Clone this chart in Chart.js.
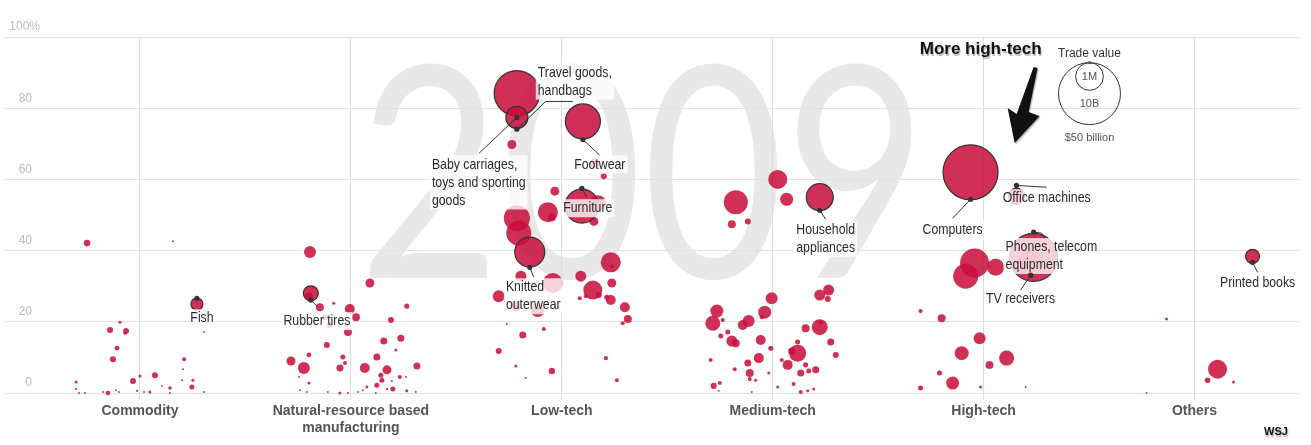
<!DOCTYPE html>
<html>
<head>
<meta charset="utf-8">
<script src="https://cdn.jsdelivr.net/npm/chart.js@4.4.1/dist/chart.umd.min.js"></script>
<style>
  html, body { margin: 0; padding: 0; background: #fff; }
  #wrap { width: 1311px; height: 445px; position: relative; }
</style>
</head>
<body>
<div id="wrap"><canvas id="chart"></canvas></div>
<script>
const categories = ['Commodity', 'Natural-resource based manufacturing', 'Low-tech', 'Medium-tech', 'High-tech', 'Others'];
const yTicks = [0, 20, 40, 60, 80, 100];
const yearLabel = '2009';
const legendValues = [10, 50];
const legendTexts = ['Trade value', '1M', '10B', '$50 billion'];

// rows: [offset from category centre, share %, trade value $bn]
const commodity = [
    [-0.251, 42.1, 0.57], [0.156, 42.6, 0.05], [-0.142, 17.7, 0.47], [-0.095, 19.9, 0.12], [-0.066, 17.4, 0.47],
    [-0.071, 16.8, 0.12], [-0.109, 12.6, 0.28], [-0.128, 9.5, 0.47], [-0.303, 3.1, 0.12], [-0.303, 1.1, 0.07],
    [-0.289, 0, 0.05], [-0.261, 0, 0.05], [-0.175, 0.3, 0.05], [-0.152, 0, 0.28], [-0.114, 0.8, 0.05],
    [-0.1, 0.3, 0.05], [-0.033, 3.4, 0.47], [0, 4.8, 0.12], [-0.014, 0.6, 0.07], [0.019, 0.3, 0.05],
    [0.047, 0.3, 0.12], [0.071, 5.0, 0.47], [0.104, 2.0, 0.05], [0.142, 1.4, 0.15], [0.142, 0, 0.05],
    [0.199, 3.6, 0.05], [0.209, 9.5, 0.21], [0.204, 6.7, 0.05], [0.251, 3.6, 0.12], [0.246, 1.7, 0.33],
    [0.303, 0.3, 0.05], [0.303, 17.1, 0.05]
];
const naturalResource = [
    [-0.194, 39.6, 1.87], [-0.199, 27.2, 0.83], [-0.147, 24.1, 0.83], [-0.081, 25.2, 0.12], [0.09, 30.9, 1.05],
    [-0.005, 23.6, 1.3], [0.024, 21.3, 0.83], [-0.123, 21.3, 0.47], [-0.1, 19.1, 0.47], [0.265, 24.4, 0.33],
    [0.19, 20.5, 0.47], [-0.014, 17.1, 0.83], [0.156, 14.6, 0.64], [0.237, 15.4, 0.64], [0.213, 12.1, 0.12],
    [-0.114, 13.5, 0.47], [-0.199, 10.7, 0.28], [-0.284, 9.0, 1.05], [-0.223, 7.0, 1.87], [-0.038, 10.1, 0.33],
    [-0.028, 8.4, 0.21], [-0.052, 7.0, 0.64], [0.066, 7.0, 1.3], [0.123, 10.1, 0.64], [0.171, 6.5, 1.05],
    [0.142, 5.0, 0.33], [0.147, 3.6, 0.33], [0.123, 2.2, 0.33], [0.313, 7.6, 0.64], [0.232, 4.5, 0.21],
    [0.261, 4.5, 0.05], [0.194, 3.4, 0.05], [0.199, 1.1, 0.33], [0.171, 1.1, 0.07], [0.076, 1.7, 0.12],
    [0.057, 0.8, 0.05], [0.033, 0.3, 0.05], [0.265, 0.6, 0.12], [0.308, 0.3, 0.05], [0.118, 0, 0.05],
    [-0.199, 2.8, 0.12], [-0.246, 4.5, 0.05], [-0.242, 0.8, 0.05], [-0.209, 0.3, 0.05], [-0.109, 0.3, 0.05],
    [-0.052, 0, 0.12], [-0.014, 0, 0.05]
];
const lowTech = [
    [-0.237, 69.8, 1.05], [0.156, 64.5, 1.3], [0.199, 60.9, 0.47], [-0.033, 56.7, 1.05], [0.171, 53.3, 3.33],
    [0.152, 48.2, 1.05], [-0.066, 50.8, 5.2], [-0.047, 49.4, 0.83], [-0.213, 49.1, 8.79], [-0.204, 44.9, 8.13],
    [-0.194, 32.8, 1.57], [-0.043, 30.9, 5.2], [-0.299, 27.2, 1.87], [-0.218, 24.4, 1.3], [-0.114, 23.3, 2.55],
    [0.09, 32.8, 1.57], [0.147, 28.9, 4.69], [0.232, 36.7, 5.2], [0.237, 35.6, 0.21], [0.237, 30.9, 1.05],
    [0.232, 26.1, 1.3], [0.085, 26.6, 0.21], [0.114, 27.2, 0.21], [0.175, 27.5, 0.47], [0.213, 26.9, 0.33],
    [0.299, 24.1, 1.3], [0.313, 20.8, 0.83], [0.289, 19.6, 0.21], [-0.261, 19.4, 0.05], [-0.185, 16.3, 0.64],
    [-0.085, 18.0, 0.21], [-0.299, 11.8, 0.47], [-0.218, 7.6, 0.12], [-0.171, 4.2, 0.05], [-0.047, 6.2, 0.53],
    [0.209, 9.8, 0.25], [0.261, 3.6, 0.21]
];
const mediumTech = [
    [0.024, 60.0, 4.69], [-0.175, 53.6, 7.49], [-0.194, 47.4, 0.83], [-0.118, 48.2, 0.47], [0.066, 54.4, 2.2],
    [0.265, 28.9, 1.57], [0.223, 27.5, 1.57], [0.261, 26.4, 0.47], [-0.005, 26.6, 1.87], [-0.265, 23.0, 2.2],
    [-0.284, 19.6, 2.93], [-0.237, 20.5, 0.21], [-0.038, 22.7, 2.2], [-0.052, 21.3, 0.21], [-0.114, 20.2, 1.87],
    [-0.142, 19.1, 1.3], [-0.213, 17.1, 0.33], [-0.246, 16.0, 0.33], [-0.194, 14.6, 1.57], [-0.175, 14.0, 0.83],
    [-0.057, 14.9, 1.3], [-0.009, 12.6, 0.33], [-0.294, 9.3, 0.21], [-0.18, 6.7, 0.21], [-0.118, 8.4, 0.64],
    [-0.109, 5.6, 0.83], [-0.066, 9.8, 1.3], [-0.109, 3.9, 0.21], [-0.081, 3.6, 0.12], [-0.019, 5.6, 0.12],
    [0.043, 9.3, 0.21], [0.09, 11.8, 0.64], [0.118, 11.2, 3.76], [0.118, 14.3, 0.33], [0.071, 7.9, 1.3],
    [0.156, 18.2, 0.83], [0.223, 18.5, 3.33], [0.227, 19.9, 0.21], [0.275, 14.3, 0.64], [0.299, 10.7, 0.47],
    [0.156, 7.9, 0.33], [0.171, 6.2, 0.33], [0.204, 6.5, 0.64], [0.133, 5.6, 0.64], [0.099, 2.5, 0.21],
    [0.133, 0.3, 0.21], [0.166, 0.6, 0.12], [0.194, 1.1, 0.12], [0.024, 1.7, 0.12], [-0.099, 0.3, 0.05],
    [-0.28, 2.0, 0.47], [-0.251, 2.8, 0.21], [-0.256, 0.6, 0.05]
];
const highTech = [
    [-0.043, 36.5, 10.9], [-0.085, 32.8, 8.13], [0.057, 35.3, 3.76], [-0.299, 23.0, 0.21], [-0.199, 21.0, 0.83],
    [-0.019, 15.4, 1.87], [-0.104, 11.2, 2.55], [0.028, 7.9, 0.83], [0.109, 9.8, 2.93], [-0.209, 5.6, 0.33],
    [-0.147, 2.8, 2.2], [-0.299, 1.4, 0.33], [-0.014, 1.7, 0.12], [0.199, 1.7, 0.05]
];
const others = [
    [-0.227, 0, 0.05], [-0.133, 20.8, 0.12], [0.109, 6.7, 4.69], [0.062, 3.6, 0.41], [0.185, 3.1, 0.12]
];

// named products: category index, offset, share %, trade value $bn
const highlighted = [
    { name: 'Fish', cat: 0, off: 0.27, share: 25.0, value: 1.87 },
    { name: 'Rubber tires', cat: 1, off: -0.19, share: 28.0, value: 2.93 },
    { name: 'Travel goods, handbags', cat: 2, off: -0.213, share: 84.2, value: 26.8 },
    { name: 'Baby carriages, toys and sporting goods', cat: 2, off: -0.213, share: 77.4, value: 6.29 },
    { name: 'Footwear', cat: 2, off: 0.1, share: 76.3, value: 15.9 },
    { name: 'Furniture', cat: 2, off: 0.095, share: 52.5, value: 15.0 },
    { name: 'Knitted outerwear', cat: 2, off: -0.152, share: 39.6, value: 11.7 },
    { name: 'Household appliances', cat: 3, off: 0.223, share: 55.0, value: 9.48 },
    { name: 'Computers', cat: 4, off: -0.062, share: 62.0, value: 39.3 },
    { name: 'Office machines', cat: 4, off: 0.156, share: 55.3, value: 3.33 },
    { name: 'Phones, telecom equipment', cat: 4, off: 0.237, share: 38.1, value: 30.0 },
    { name: 'TV receivers', cat: 4, off: 0.223, share: 36.7, value: 8.79 },
    { name: 'Printed books', cat: 5, off: 0.275, share: 38.4, value: 2.55 }
];

// label layout, in axis units
const notes = {
    'Fish': { lines: ['Fish'], dot: [0.270, 26.6], path: [], at: [0.294, 21.0], align: 'center' },
    'Rubber tires': { lines: ['Rubber tires'], dot: [0.810, 26.1], path: [[0.839, 24.4]], at: [0.839, 20.2], align: 'center' },
    'Travel goods, handbags': { lines: ['Travel goods,', 'handbags'], dot: [1.787, 74.1], path: [[1.924, 81.9], [2.052, 81.9]], at: [1.886, 90.0], align: 'left' },
    'Baby carriages, toys and sporting goods': { lines: ['Baby carriages,', 'toys and sporting', 'goods'], dot: [1.787, 77.4], path: [[1.607, 67.3]], at: [1.384, 64.2], align: 'left' },
    'Footwear': { lines: ['Footwear'], dot: [2.100, 71.2], path: [[2.180, 66.8]], at: [2.180, 64.2], align: 'center' },
    'Furniture': { lines: ['Furniture'], dot: [2.095, 57.5], path: [[2.118, 55.0]], at: [2.123, 51.9], align: 'center' },
    'Knitted outerwear': { lines: ['Knitted', 'outerwear'], dot: [1.848, 35.3], path: [[1.867, 32.5]], at: [1.735, 29.7], align: 'left' },
    'Household appliances': { lines: ['Household', 'appliances'], dot: [3.223, 51.3], path: [[3.251, 48.8]], at: [3.251, 45.7], align: 'center' },
    'Computers': { lines: ['Computers'], dot: [3.938, 54.4], path: [[3.853, 49.1]], at: [3.853, 45.7], align: 'center' },
    'Office machines': { lines: ['Office machines'], dot: [4.156, 58.3], path: [[4.299, 57.8]], at: [4.299, 54.7], align: 'center' },
    'Phones, telecom equipment': { lines: ['Phones, telecom', 'equipment'], dot: [4.237, 45.2], path: [[4.275, 44.9], [4.289, 43.5]], at: [4.104, 41.0], align: 'left' },
    'TV receivers': { lines: ['TV receivers'], dot: [4.223, 33.1], path: [[4.175, 28.9]], at: [4.175, 26.4], align: 'center', ring: false },
    'Printed books': { lines: ['Printed books'], dot: [5.275, 36.7], path: [[5.299, 33.9]], at: [5.299, 30.9], align: 'center' }
};

const RED = 'rgba(200, 14, 58, 0.86)';
const INK = '#333';
const SANS = '"Liberation Sans", Arial, sans-serif';
const SQUEEZE = 0.82; // condensed look for the labels

const radiusFor = v => 31 * Math.sqrt(v / 50);

const groups = [commodity, naturalResource, lowTech, mediumTech, highTech, others];
const plainPoints = [];
groups.forEach((rows, i) => {
    rows.forEach(([off, share, value]) => {
        plainPoints.push({ x: i + off, y: share, r: radiusFor(value) });
    });
});
const labelledPoints = highlighted.map(h => ({
    x: h.cat + h.off, y: h.share, r: radiusFor(h.value), ring: notes[h.name].ring !== false
}));

function wrap(label) {
    if (!label || label.length < 20) return label;
    const cut = label.lastIndexOf(' ');
    return [label.slice(0, cut), label.slice(cut + 1)];
}

function narrowText(ctx, text, x, y, align) {
    const w = ctx.measureText(text).width * SQUEEZE;
    const x0 = align === 'center' ? x - w / 2 : x;
    ctx.save();
    ctx.translate(x0, y);
    ctx.scale(SQUEEZE, 1);
    ctx.textAlign = 'left';
    ctx.fillText(text, 0, 0);
    ctx.restore();
}

const yearPlugin = {
    id: 'year',
    beforeDraw(chart) {
        const { ctx, scales: { x, y } } = chart;
        const left = x.getPixelForValue(1.09), right = x.getPixelForValue(3.673);
        const base = y.getPixelForValue(32.3), top = y.getPixelForValue(93.4);
        ctx.save();
        ctx.font = `400 300px Lato, ${SANS}`;
        const m = ctx.measureText(yearLabel);
        const w = m.actualBoundingBoxLeft + m.actualBoundingBoxRight;
        ctx.translate(left, base);
        ctx.scale((right - left) / w, (base - top) / m.actualBoundingBoxAscent);
        ctx.fillStyle = '#e8e8e8';
        ctx.textBaseline = 'alphabetic';
        ctx.fillText(yearLabel, m.actualBoundingBoxLeft, 0);
        ctx.restore();
    }
};

const notePlugin = {
    id: 'notes',
    afterDatasetsDraw(chart) {
        const { ctx, scales: { x, y } } = chart;
        const P = ([a, b]) => [x.getPixelForValue(a), y.getPixelForValue(b)];
        const LH = 18;
        const list = highlighted.map(h => notes[h.name]);
        ctx.save();
        ctx.font = `15px ${SANS}`;
        ctx.textBaseline = 'middle';

        list.forEach(n => {
            const [lx, ly] = P(n.at);
            const w = Math.max(...n.lines.map(t => ctx.measureText(t).width)) * SQUEEZE;
            const x0 = n.align === 'center' ? lx - w / 2 : lx;
            ctx.fillStyle = 'rgba(255,255,255,0.78)';
            ctx.fillRect(x0 - 2, ly - LH / 2, w + 4, LH * n.lines.length);
        });

        ctx.strokeStyle = INK;
        ctx.fillStyle = INK;
        ctx.lineWidth = 1;
        list.forEach(n => {
            const [dx, dy] = P(n.dot);
            if (n.path.length) {
                ctx.beginPath();
                ctx.moveTo(dx, dy);
                n.path.forEach(p => ctx.lineTo(...P(p)));
                ctx.stroke();
            }
            ctx.beginPath();
            ctx.arc(dx, dy, 2.6, 0, Math.PI * 2);
            ctx.fill();
        });

        ctx.fillStyle = '#2b2b2b';
        list.forEach(n => {
            const [lx, ly] = P(n.at);
            n.lines.forEach((t, i) => narrowText(ctx, t, lx, ly + i * LH, n.align));
        });
        ctx.restore();
    }
};

const decorPlugin = {
    id: 'decor',
    afterDraw(chart) {
        const { ctx, chartArea, scales: { x, y } } = chart;
        ctx.save();

        // y tick labels sit above their grid lines
        ctx.font = `12px ${SANS}`;
        ctx.fillStyle = '#bbb';
        ctx.textAlign = 'right';
        ctx.textBaseline = 'middle';
        yTicks.forEach(v => {
            const py = y.getPixelForValue(v) - 10;
            const text = v === 100 ? v + '%' : String(v);
            ctx.fillText(text, chartArea.left + (v === 100 ? 35 : 27), py);
        });

        // "More high-tech" note and arrow
        const [tx, ty] = [x.getPixelForValue(3.986), y.getPixelForValue(96.5)];
        ctx.font = `bold 17px ${SANS}`;
        ctx.textAlign = 'center';
        ctx.shadowColor = 'rgba(0,0,0,0.3)';
        ctx.shadowOffsetX = 1;
        ctx.shadowOffsetY = 1.5;
        ctx.shadowBlur = 1;
        ctx.fillStyle = '#111';
        ctx.fillText('More high-tech', tx, ty);

        const [ax, ay] = [x.getPixelForValue(4.147), y.getPixelForValue(70.2)];
        ctx.beginPath();
        ctx.moveTo(ax + 19, ay - 76);
        ctx.lineTo(ax + 23, ay - 75);
        ctx.lineTo(ax + 14, ay - 31);
        ctx.lineTo(ax + 25, ay - 27);
        ctx.lineTo(ax, ay);
        ctx.lineTo(ax - 7, ay - 35);
        ctx.lineTo(ax + 2, ay - 29);
        ctx.closePath();
        ctx.fill();

        // WSJ mark
        ctx.font = `bold 11px ${SANS}`;
        ctx.fillText('WSJ', chart.width - 35, chart.height - 13);
        ctx.shadowColor = 'transparent';

        // trade value legend
        const cx = x.getPixelForValue(4.502);
        const top = y.getPixelForValue(92.8);
        const [rSmall, rBig] = legendValues.map(radiusFor);
        ctx.strokeStyle = INK;
        ctx.lineWidth = 1;
        [rSmall, rBig].forEach(r => {
            ctx.beginPath();
            ctx.arc(cx, top + r, r, 0, Math.PI * 2);
            ctx.stroke();
        });
        ctx.fillStyle = '#555';
        ctx.beginPath();
        ctx.arc(cx, top, 1.6, 0, Math.PI * 2);
        ctx.fill();

        ctx.fillStyle = '#333';
        ctx.font = `12px ${SANS}`;
        ctx.fillText(legendTexts[0], cx, top - 9);
        ctx.fillStyle = '#555';
        ctx.font = `11px ${SANS}`;
        ctx.fillText(legendTexts[1], cx, top + rSmall);
        ctx.fillText(legendTexts[2], cx, top + rBig + 10);
        ctx.fillText(legendTexts[3], cx, top + 2 * rBig + 13);
        ctx.restore();
    }
};

new Chart(document.getElementById('chart'), {
    type: 'bubble',
    data: {
        datasets: [
            {
                label: 'named',
                data: labelledPoints,
                backgroundColor: RED,
                borderColor: INK,
                borderWidth: c => (c.raw && c.raw.ring ? 1.2 : 0),
                clip: false
            },
            {
                label: 'products',
                data: plainPoints,
                backgroundColor: RED,
                borderWidth: 0,
                clip: false
            }
        ]
    },
    options: {
        responsive: true,
        maintainAspectRatio: false,
        animation: false,
        events: [],
        layout: { autoPadding: false, padding: { left: 5, right: 11, top: 37, bottom: 0 } },
        plugins: { legend: { display: false }, tooltip: { enabled: false } },
        scales: {
            x: {
                type: 'linear',
                min: -0.64,
                max: 5.5,
                afterBuildTicks: s => { s.ticks = categories.map((_, i) => ({ value: i })); },
                afterFit: s => { s.height = 52; },
                border: { display: false },
                grid: { color: '#dcdcdc', tickColor: '#dcdcdc', drawTicks: true, tickLength: 7 },
                ticks: {
                    padding: 3,
                    color: '#555',
                    autoSkip: false,
                    maxRotation: 0,
                    font: { family: SANS, size: 14, weight: 'bold', lineHeight: 1.2 },
                    callback: v => wrap(categories[v])
                }
            },
            y: {
                min: 0,
                max: 100,
                afterBuildTicks: s => { s.ticks = yTicks.map(v => ({ value: v })); },
                afterFit: s => { s.width = 0; },
                border: { display: false },
                grid: { color: '#e2e2e2', drawTicks: false },
                ticks: { display: false }
            }
        }
    },
    plugins: [yearPlugin, notePlugin, decorPlugin]
});
</script>
</body>
</html>
